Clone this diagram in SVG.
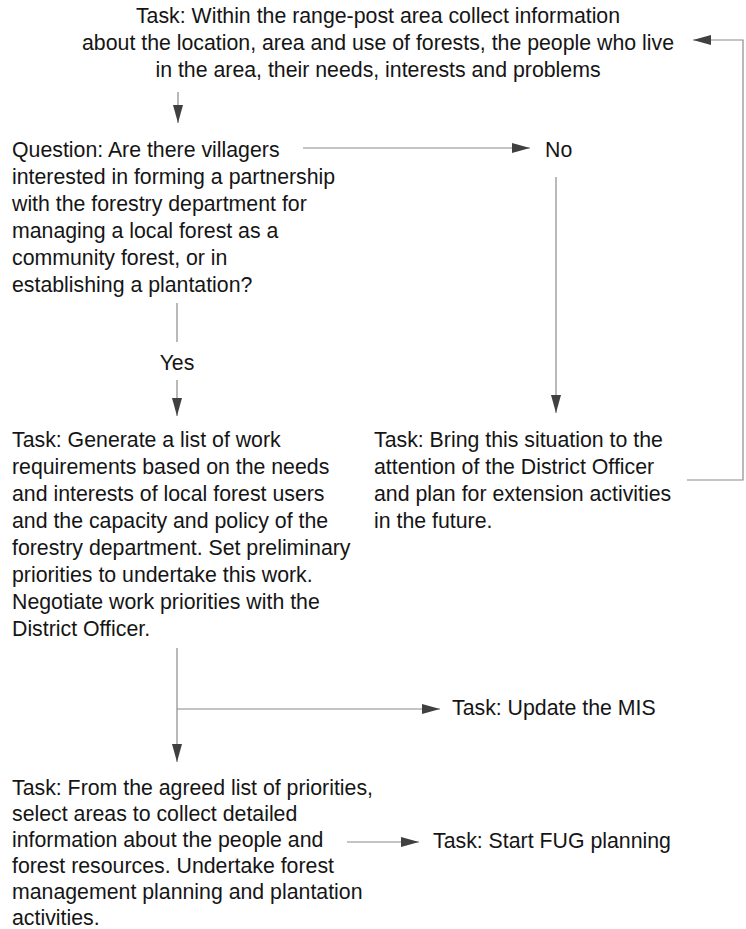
<svg xmlns="http://www.w3.org/2000/svg" width="746" height="929" viewBox="0 0 746 929">
<style>
text{font-family:"Liberation Sans",Arial,sans-serif;font-size:21.3px;fill:#151515}
.c{text-anchor:middle}
.ln{fill:none;stroke:#8a8a8a;stroke-width:1.2}
</style>
<defs>
<marker id="ah" markerUnits="userSpaceOnUse" markerWidth="18" markerHeight="10" refX="18" refY="5" orient="auto">
<path d="M0,0 L18,5 L0,10 z" fill="#404040"/>
</marker>
</defs>
<rect width="746" height="929" fill="#fff"/>
<g id="connectors">
<line class="ln" x1="178" y1="92" x2="178" y2="123" marker-end="url(#ah)"/>
<line class="ln" x1="303" y1="148" x2="530" y2="148" marker-end="url(#ah)"/>
<line class="ln" x1="556" y1="177" x2="556" y2="413" marker-end="url(#ah)"/>
<polyline class="ln" points="687,480 743,480 743,40 693,40" marker-end="url(#ah)"/>
<line class="ln" x1="177" y1="303" x2="177" y2="342"/>
<line class="ln" x1="177" y1="380" x2="177" y2="416" marker-end="url(#ah)"/>
<line class="ln" x1="177" y1="648" x2="177" y2="762" marker-end="url(#ah)"/>
<line class="ln" x1="177" y1="709" x2="440" y2="709" marker-end="url(#ah)"/>
<line class="ln" x1="347" y1="842" x2="419" y2="842" marker-end="url(#ah)"/>
</g>
<g id="task-collect">
<text class="c" x="378" y="23">Task: Within the range-post area collect information</text>
<text class="c" x="378" y="50">about the location, area and use of forests, the people who live</text>
<text class="c" x="378" y="77">in the area, their needs, interests and problems</text>
</g>
<g id="question">
<text x="12" y="157">Question: Are there villagers</text>
<text x="12" y="184">interested in forming a partnership</text>
<text x="12" y="211">with the forestry department for</text>
<text x="12" y="238">managing a local forest as a</text>
<text x="12" y="265">community forest, or in</text>
<text x="12" y="292">establishing a plantation?</text>
</g>
<g id="label-no"><text x="545" y="157">No</text></g>
<g id="label-yes"><text class="c" x="177" y="370">Yes</text></g>
<g id="task-generate">
<text x="12" y="447">Task: Generate a list of work</text>
<text x="12" y="474">requirements based on the needs</text>
<text x="12" y="501">and interests of local forest users</text>
<text x="12" y="528">and the capacity and policy of the</text>
<text x="12" y="555">forestry department. Set preliminary</text>
<text x="12" y="582">priorities to undertake this work.</text>
<text x="12" y="609">Negotiate work priorities with the</text>
<text x="12" y="636">District Officer.</text>
</g>
<g id="task-bring">
<text x="374" y="447">Task: Bring this situation to the</text>
<text x="374" y="474">attention of the District Officer</text>
<text x="374" y="501">and plan for extension activities</text>
<text x="374" y="528">in the future.</text>
</g>
<g id="task-mis"><text x="452" y="715">Task: Update the MIS</text></g>
<g id="task-select">
<text x="12" y="795">Task: From the agreed list of priorities,</text>
<text x="12" y="821">select areas to collect detailed</text>
<text x="12" y="847">information about the people and</text>
<text x="12" y="873">forest resources. Undertake forest</text>
<text x="12" y="899">management planning and plantation</text>
<text x="12" y="925">activities.</text>
</g>
<g id="task-fug"><text x="433" y="848">Task: Start FUG planning</text></g>
</svg>
